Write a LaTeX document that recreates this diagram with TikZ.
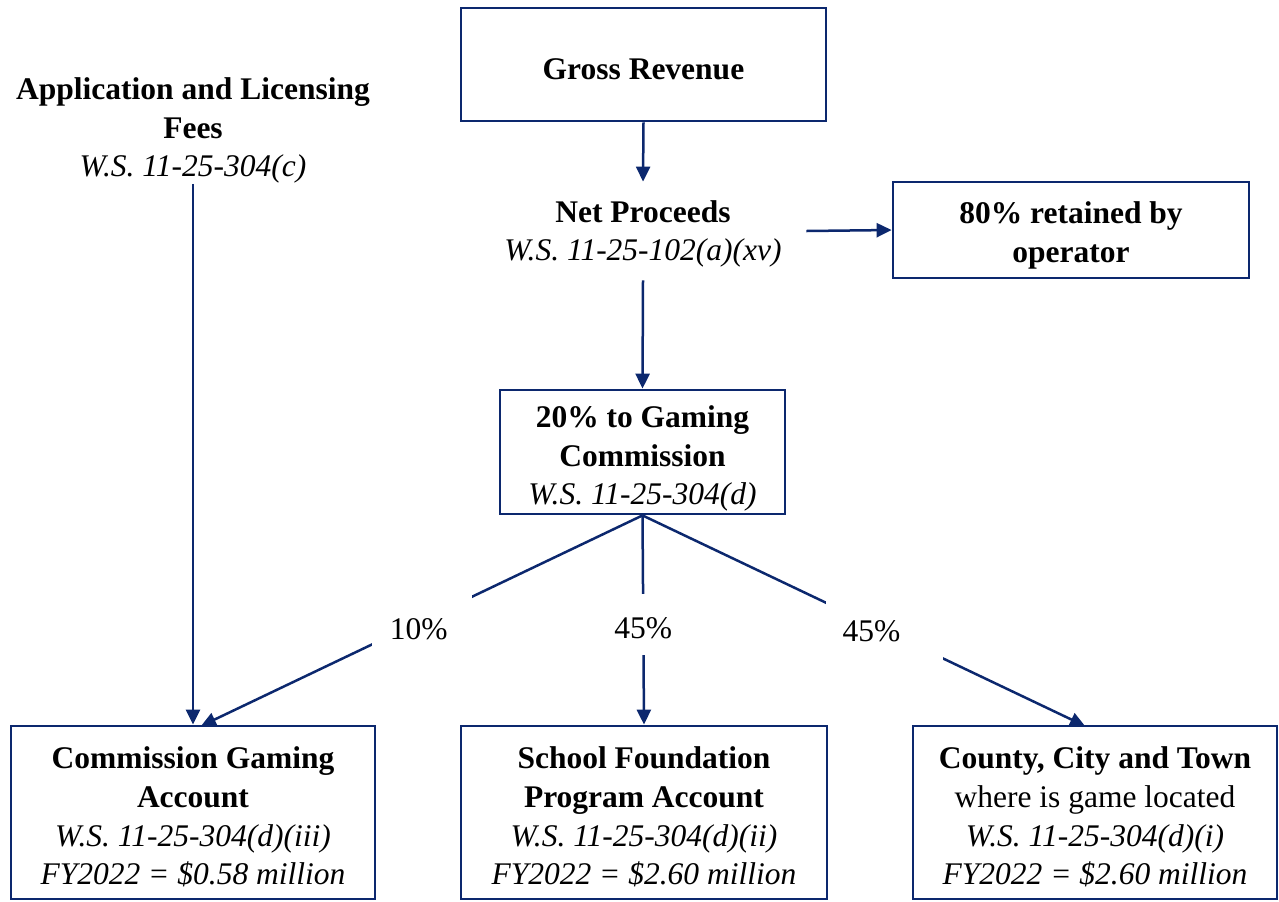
\documentclass[tikz,border=0pt]{standalone}
\usepackage{fontspec}
\setmainfont{Liberation Serif}
\usetikzlibrary{arrows.meta}
\definecolor{navy}{RGB}{12,40,110}
% invisible rule that sets the height of a first line
\newcommand\topgap[1]{\rule{0pt}{#1}}
% percentage text placed inside a white gap: x shift, baseline shift, text
\newcommand\gaptext[3]{\makebox[0pt][c]{\hspace*{#1}\hspace*{#1}\raisebox{#2}[0pt][0pt]{#3}}}
\begin{document}
\begin{tikzpicture}[x=0.5pt,y=-0.5pt,
  every node/.style={font=\fontsize{15.75}{19.3}\selectfont, align=center, inner sep=0pt},
  box/.style={draw=navy, line width=1.4pt, fill=white},
  flow/.style={draw=navy, line width=1.25pt, -{Triangle[length=7.5pt,width=7pt]}},
  pct/.style={fill=white, inner sep=0pt}]
\useasboundingbox (0,0) rectangle (1279,901);

% boxes
\node[box, minimum width=182.5pt, minimum height=56.5pt] (gr) at (643.5,64.5) {\topgap{15pt}\textbf{Gross Revenue}};
\node[box, minimum width=178pt, minimum height=48pt] (rt) at (1071,230) {\topgap{16.5pt}\textbf{80\% retained by}\\\textbf{operator}};
\node[box, minimum width=142.5pt, minimum height=62pt] (gc) at (642.5,452) {\topgap{17.5pt}\textbf{20\% to Gaming}\\\textbf{Commission}\\\textit{W.S. 11-25-304(d)}};
\node[box, minimum width=182pt, minimum height=86.5pt] (cga) at (193,812.5) {\topgap{15.5pt}\textbf{Commission Gaming}\\\textbf{Account}\\\textit{W.S. 11-25-304(d)(iii)}\\\textit{FY2022 = \$0.58 million}};
\node[box, minimum width=183pt, minimum height=86.5pt] (sfp) at (644,812.5) {\topgap{15.5pt}\textbf{School Foundation}\\\textbf{Program Account}\\\textit{W.S. 11-25-304(d)(ii)}\\\textit{FY2022 = \$2.60 million}};
\node[box, minimum width=182pt, minimum height=86.5pt] (cct) at (1095,812.5) {\topgap{15.5pt}\textbf{County, City and Town}\\where is game located\\\textit{W.S. 11-25-304(d)(i)}\\\textit{FY2022 = \$2.60 million}};

% free-standing texts
\node[minimum width=163pt, minimum height=49pt] (np) at (643,231) {\topgap{14pt}\textbf{Net Proceeds}\\\textit{W.S. 11-25-102(a)(xv)}};
\node[minimum height=56pt] (af) at (193,127) {\topgap{14.5pt}\textbf{Application and Licensing}\\\textbf{Fees}\\\textit{W.S. 11-25-304(c)}};

% arrow entry points on the lower boxes
\coordinate (cgaIn) at (201,726);
\coordinate (cctIn) at (1085,726);

% connectors
\draw[flow] (gr.south) -- (np.north);
\draw[flow] (np.east) -- (rt.west);
\draw[flow] (np.south) -- (gc.north);
\draw[flow] (af.south) -- (cga.north);
\draw[flow] (gc.south) -- node[pct, pos=0.5, minimum width=50pt, minimum height=30pt] (l1) {\gaptext{-1.5pt}{-9.3pt}{10\%}} (cgaIn);
\draw[flow] (gc.south) -- node[pct, pos=0.521, minimum width=40pt, minimum height=30.5pt] (l2) {\gaptext{0pt}{-7pt}{45\%}} (sfp.north);
\draw[flow] (gc.south) -- node[pct, pos=0.546, minimum width=58.5pt, minimum height=30pt] (l3) {\gaptext{-6.25pt}{-5.5pt}{45\%}} (cctIn);
\end{tikzpicture}
\end{document}
